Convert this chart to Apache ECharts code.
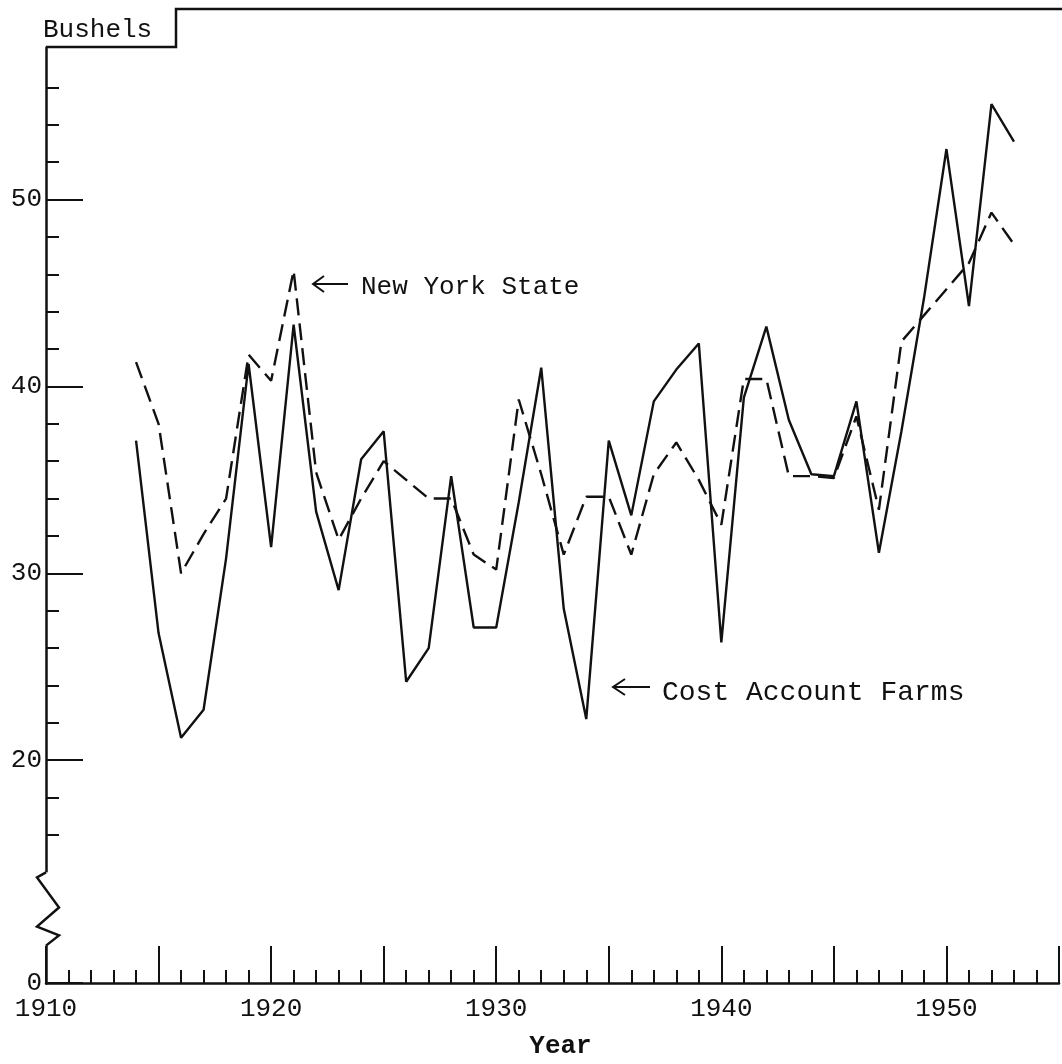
<!DOCTYPE html>
<html>
<head>
<meta charset="utf-8">
<script src="https://cdn.jsdelivr.net/npm/echarts@6/dist/echarts.min.js"></script>
<style>
  html, body { margin: 0; padding: 0; background: #fff; }
  #chart { width: 1062px; height: 1064px; }
</style>
</head>
<body>
<div id="chart"></div>
<script>
// ---- data ----
const years = [1914, 1915, 1916, 1917, 1918, 1919, 1920, 1921, 1922, 1923,
               1924, 1925, 1926, 1927, 1928, 1929, 1930, 1931, 1932, 1933,
               1934, 1935, 1936, 1937, 1938, 1939, 1940, 1941, 1942, 1943,
               1944, 1945, 1946, 1947, 1948, 1949, 1950, 1951, 1952, 1953];
const costAccountFarms = [37.1, 26.8, 21.2, 22.7, 30.8, 41.2, 31.4, 43.3, 33.3, 29.1,
                          36.1, 37.6, 24.2, 26.0, 35.2, 27.1, 27.1, 33.8, 41.0, 28.1,
                          22.2, 37.1, 33.1, 39.2, 40.9, 42.3, 26.3, 39.4, 43.2, 38.2,
                          35.3, 35.2, 39.2, 31.1, 37.6, 44.7, 52.7, 44.3, 55.1, 53.1];
const newYorkState = [41.3, 38.0, 30.0, 32.1, 34.0, 41.7, 40.3, 46.2, 35.4, 31.8,
                      34.0, 36.0, 35.0, 34.0, 34.0, 31.0, 30.2, 39.3, 35.3, 31.0,
                      34.1, 34.1, 31.0, 35.3, 37.0, 35.0, 32.6, 40.4, 40.4, 35.2,
                      35.2, 35.1, 38.4, 33.4, 42.4, 43.8, 45.2, 46.6, 49.3, 47.6];
const xLabelYears = [1910, 1920, 1930, 1940, 1950];
const yMajorTicks = [0, 20, 30, 40, 50];
const yMinorTicks = [16, 18, 22, 24, 26, 28, 32, 34, 36, 38, 42, 44, 46, 48, 52, 54, 56];
const seriesNames = ['Cost Account Farms', 'New York State'];

const FONT = '"Liberation Mono", "DejaVu Sans Mono", monospace';
const INK = '#111';
const Y_MAX = 58.16;
const Y_BREAKS = [{ start: 2, end: 14, gap: 3.92 }];

const chart = echarts.init(document.getElementById('chart'), null, { renderer: 'canvas' });

const pairs = vals => years.map((y, i) => [y, vals[i]]);

const hiddenBreakArea = {
  show: true,
  itemStyle: { color: 'rgba(0,0,0,0)', borderColor: 'rgba(0,0,0,0)', borderWidth: 0 }
};

const option = {
  backgroundColor: '#fff',
  animation: false,
  grid: { left: 46, right: 0, top: 47, bottom: 75 },
  xAxis: {
    type: 'value',
    min: 1910, max: 1955, interval: 5,
    name: 'Year',
    nameLocation: 'middle',
    nameGap: 50,
    nameTextStyle: { fontFamily: FONT, fontSize: 26, fontWeight: 'bold', color: INK, padding: [0, 0, 0, 16] },
    axisLine: { lineStyle: { color: INK, width: 2.5 } },
    axisTick: { show: true, inside: true, length: 37, lineStyle: { color: INK, width: 2 } },
    minorTick: { show: true, splitNumber: 5, length: 13, lineStyle: { color: INK, width: 2 } },
    splitLine: { show: false },
    minorSplitLine: { show: false },
    axisLabel: {
      fontFamily: FONT, fontSize: 26, color: INK, margin: 13,
      formatter: v => xLabelYears.indexOf(v) >= 0 ? String(v) : ''
    }
  },
  yAxis: [
    {
      type: 'value',
      min: 0, max: Y_MAX,
      breaks: Y_BREAKS,
      breakArea: hiddenBreakArea,
      axisLine: { show: true, lineStyle: { color: INK, width: 2.5 } },
      axisTick: { show: true, inside: true, length: 37, customValues: yMajorTicks,
                  lineStyle: { color: INK, width: 2 } },
      minorTick: { show: false },
      splitLine: { show: false },
      axisLabel: { fontFamily: FONT, fontSize: 26, color: INK, margin: 4, customValues: yMajorTicks }
    },
    {
      type: 'value',
      position: 'left',
      min: 0, max: Y_MAX,
      breaks: Y_BREAKS,
      breakArea: hiddenBreakArea,
      axisLine: { show: false },
      axisTick: { show: true, inside: true, length: 13, customValues: yMinorTicks,
                  lineStyle: { color: INK, width: 2 } },
      minorTick: { show: false },
      splitLine: { show: false },
      axisLabel: { show: false }
    }
  ],
  series: [
    {
      name: seriesNames[0], type: 'line', yAxisIndex: 0, data: pairs(costAccountFarms),
      symbol: 'none', lineStyle: { color: INK, width: 2.4, type: 'solid' }, z: 3
    },
    {
      name: seriesNames[1], type: 'line', yAxisIndex: 0, data: pairs(newYorkState),
      symbol: 'none', lineStyle: { color: INK, width: 2.4, type: [17, 8] }, z: 2
    }
  ]
};
chart.setOption(option);

// decorations: frame notch, axis break zigzag, annotations
const axX = chart.convertToPixel({ xAxisIndex: 0 }, 1910);
const yLo = chart.convertToPixel({ yAxisIndex: 0 }, 2);
const yHi = chart.convertToPixel({ yAxisIndex: 0 }, 14);
const yTop = chart.convertToPixel({ yAxisIndex: 0 }, Y_MAX);
const h = yLo - yHi;

chart.setOption({
  graphic: [
    { type: 'polyline', shape: { points: [[axX, yTop], [176, yTop], [176, 9], [1062, 9]] },
      style: { stroke: INK, lineWidth: 2.5, fill: null }, z: 100 },
    { type: 'text', style: { text: 'Bushels', x: 43, y: 30, fontFamily: FONT, fontSize: 26,
      fill: INK, verticalAlign: 'middle' }, z: 100 },
    { type: 'rect', shape: { x: axX - 4, y: yHi, width: 8, height: h },
      style: { fill: '#fff' }, z: 100 },
    { type: 'polyline', shape: { points: [
        [axX, yHi], [axX - 9, yHi + h * 0.07], [axX + 13, yHi + h * 0.48],
        [axX - 9, yHi + h * 0.74], [axX + 13, yHi + h * 0.86], [axX, yLo]] },
      style: { stroke: INK, lineWidth: 2.5, fill: null }, z: 101 },
    // New York State annotation
    { type: 'polyline', shape: { points: [[324, 276], [313, 284], [324, 292]] },
      style: { stroke: INK, lineWidth: 2, fill: null }, z: 100 },
    { type: 'line', shape: { x1: 313, y1: 284, x2: 348, y2: 284 },
      style: { stroke: INK, lineWidth: 2 }, z: 100 },
    { type: 'text', style: { text: 'New York State', x: 361, y: 287, fontFamily: FONT, fontSize: 26,
      fill: INK, verticalAlign: 'middle' }, z: 100 },
    // Cost Account Farms annotation
    { type: 'polyline', shape: { points: [[625, 679], [613, 687], [625, 695]] },
      style: { stroke: INK, lineWidth: 2, fill: null }, z: 100 },
    { type: 'line', shape: { x1: 613, y1: 687, x2: 650, y2: 687 },
      style: { stroke: INK, lineWidth: 2 }, z: 100 },
    { type: 'text', style: { text: 'Cost Account Farms', x: 662, y: 693, fontFamily: FONT, fontSize: 28,
      fill: INK, verticalAlign: 'middle' }, z: 100 }
  ]
});
</script>
</body>
</html>
